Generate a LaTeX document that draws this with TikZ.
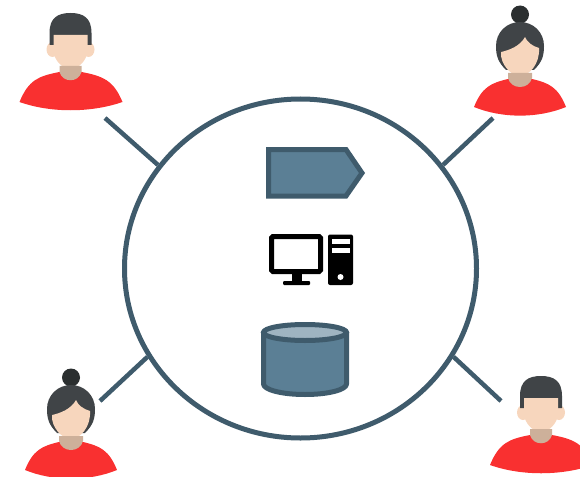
\documentclass[tikz,border=0pt]{standalone}
\usetikzlibrary{shapes.geometric}
\definecolor{slate}{HTML}{3F5B6C}
\definecolor{steel}{HTML}{5B7F95}
\definecolor{steellight}{HTML}{9FB4C1}
\definecolor{shirt}{HTML}{F93030}
\definecolor{hair}{HTML}{404447}
\definecolor{bun}{HTML}{2B2F30}
\definecolor{skin}{HTML}{F7D6BD}
\definecolor{neck}{HTML}{CDB09A}
\tikzset{
    hub/.style={draw=slate, line width=5pt, ellipse, inner sep=0pt, minimum width=352pt, minimum height=339pt},
    link/.style={draw=slate, line width=4.5pt},
    part/.style={draw=slate, fill=steel, line width=5pt},
    man/.pic={
        % Hair, ears, face
        \fill[skin] (-18,49.5) ellipse (6 and 7.5);
        \fill[skin] (18,49.5) ellipse (6 and 7.5);
        \fill[hair] (-21,45) -- (-21,33) .. controls (-21,18) and (-13,13) .. (0,13) .. controls (13,13) and (21,18) .. (21,33) -- (21,45) -- (17,45) -- (-17,45) -- cycle;
        \fill[skin] (-17,35) -- (17,35) -- (17,50) .. controls (17,60) and (8,69) .. (0,69) .. controls (-8,69) and (-17,60) .. (-17,50) -- cycle;
        % Shirt and neck
        \fill[shirt] (-51,102) .. controls (-42,80) and (-32,76) .. (-11,72) -- (11,72) .. controls (32,76) and (43,80) .. (52,102) .. controls (20,113) and (-20,113) .. cycle;
        \fill[neck] (-11,66) -- (11,66) -- (11,72) .. controls (8,83) and (-8,83) .. (-11,72) -- cycle;
    },
    woman/.pic={
        % Bun, hair, face
        \fill[bun] (0,14.5) circle (9);
        \fill[hair] (-14,70) .. controls (-22,62) and (-24,56) .. (-24,46) .. controls (-24,32) and (-13,22) .. (0,22) .. controls (13,22) and (24,32) .. (24,46) .. controls (24,56) and (22,62) .. (14,70) -- cycle;
        \fill[skin] (5,37) .. controls (0,46) and (-10,50) .. (-19,52) .. controls (-20,64) and (-9,76) .. (0,76) .. controls (9,76) and (20,64) .. (19,48) .. controls (12,46) and (7,42) .. cycle;
        % Shirt and neck
        \fill[shirt] (-46,107) .. controls (-38,87) and (-29,83) .. (-12,79) -- (12,79) .. controls (29,83) and (38,87) .. (46,107) .. controls (18,118.5) and (-18,118.5) .. cycle;
        \fill[neck] (-12,73) -- (12,73) -- (12,78) .. controls (9,90) and (-9,90) .. (-12,78) -- cycle;
    },
}
\begin{document}
\begin{tikzpicture}[x=1pt, y=-1pt]
    \useasboundingbox (0,0) rectangle (580,476);

    % Large circle in the middle
    \node[hub] (system) at (300.5,268.5) {};

    % Free ends of the four links
    \coordinate (topleft) at (105,118);
    \coordinate (topright) at (493,118);
    \coordinate (bottomleft) at (100,401);
    \coordinate (bottomright) at (501,401);
    \draw[link] (topleft) -- (system.144);
    \draw[link] (topright) -- (system.36);
    \draw[link] (bottomleft) -- (system.210);
    \draw[link] (bottomright) -- (system.330);

    % Four people
    \pic at (70.5,0) {man};
    \pic at (520,0) {woman};
    \pic at (71,363) {woman};
    \pic at (541,363) {man};

    % Tag
    \draw[part] (268.5,149.5) -- (346,149.5) -- (362,173) -- (346,196) -- (268.5,196) -- cycle;

    % Monitor
    \draw[line width=5pt, rounded corners=1.5pt] (271.5,236.5) rectangle (320.5,271.5);
    \fill[black] (292,273) rectangle (302,281);
    \fill[black, rounded corners=1pt] (283,281) rectangle (310,285);

    % Tower
    \fill[black, rounded corners=2pt] (328,234.5) rectangle (353,285);
    \fill[white] (332,238.5) rectangle (349.5,244);
    \fill[white] (332,247.5) rectangle (349.5,253);
    \fill[white] (340.5,277) circle (3);

    % Cylinder
    \draw[part, line join=round] (263.5,332.5) -- (263.5,384) arc[start angle=180, end angle=0, x radius=41.5, y radius=10.5] -- (346.5,332.5) -- cycle;
    \draw[part, fill=steellight] (305,332.5) ellipse (41.5 and 8);
\end{tikzpicture}
\end{document}
